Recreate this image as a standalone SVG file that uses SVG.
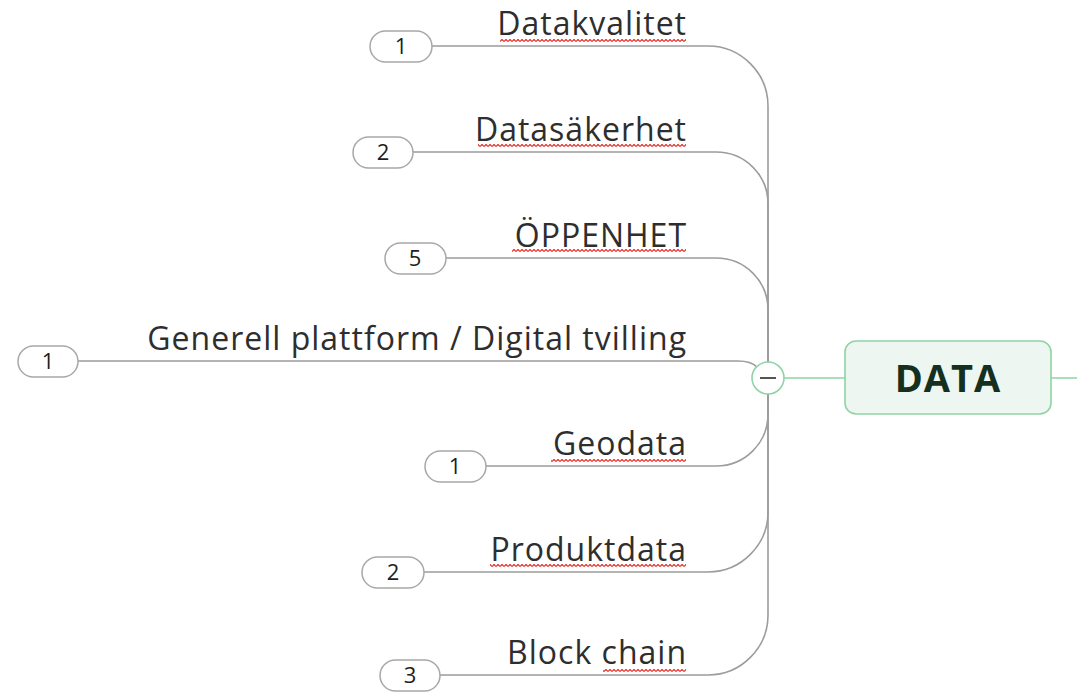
<svg xmlns="http://www.w3.org/2000/svg" width="1077" height="692" viewBox="0 0 1077 692">
<style>
.lbl{font-family:"Open Sans","Noto Sans","Liberation Sans",sans-serif;font-size:32px;letter-spacing:1px;fill:#2e2e2e;text-anchor:end}
.num{font-family:"Open Sans","Noto Sans","Liberation Sans",sans-serif;font-size:22px;fill:#1e1e1e;text-anchor:middle}
.badge{fill:#fff;stroke:#a8a8a8;stroke-width:1.5}
.conn{fill:none;stroke:#9c9c9c;stroke-width:1.6}
.sq{fill:url(#squig)}
</style>
<defs>
<pattern id="squig" patternUnits="userSpaceOnUse" width="4" height="3">
<path d="M0,2.6 L2,0.4 L4,2.6" fill="none" stroke="#e8302c" stroke-width="1.2"/>
</pattern>
</defs>
<rect width="1077" height="692" fill="#fff"/>
<g id="connectors">
<path class="conn" d="M432,46 H708 C741,46 768,73 768,106 V362"/>
<path class="conn" d="M413,152 H716 C745,152 768,175 768,204 V362"/>
<path class="conn" d="M446,258 H716 C745,258 768,281 768,310 V362"/>
<path class="conn" d="M78,361 H738 C748,361 753,363 757,367"/>
<path class="conn" d="M486,466 H716 C745,466 768,443 768,414 V394"/>
<path class="conn" d="M424,572 H708 C741,572 768,545 768,512 V394"/>
<path class="conn" d="M440,675 H708 C741,675 768,648 768,615 V394"/>
<path d="M784,378 H845 M1051,378 H1077" fill="none" stroke="#8fd3a6" stroke-width="1.6"/>
</g>
<g id="n-datakvalitet">
<rect class="badge" x="370" y="31" width="62" height="31" rx="15.5"/>
<text class="num" x="401" y="54">1</text>
<text class="lbl" x="687" y="35">Datakvalitet</text>
<rect class="sq" x="500" y="39" width="186" height="3"/>
</g>
<g id="n-datasakerhet">
<rect class="badge" x="353" y="137" width="60" height="31" rx="15.5"/>
<text class="num" x="383" y="160">2</text>
<text class="lbl" x="687" y="141">Datasäkerhet</text>
<rect class="sq" x="478" y="144" width="208" height="3"/>
</g>
<g id="n-oppenhet">
<rect class="badge" x="385" y="243" width="61" height="31" rx="15.5"/>
<text class="num" x="415" y="266">5</text>
<text class="lbl" x="687" y="247">ÖPPENHET</text>
<rect class="sq" x="512" y="249" width="174" height="3"/>
</g>
<g id="n-generell">
<rect class="badge" x="18" y="346" width="60" height="31" rx="15.5"/>
<text class="num" x="48" y="369">1</text>
<text class="lbl" x="687" y="350">Generell plattform / Digital tvilling</text>
</g>
<g id="n-geodata">
<rect class="badge" x="425" y="451" width="61" height="31" rx="15.5"/>
<text class="num" x="455" y="474">1</text>
<text class="lbl" x="687" y="455">Geodata</text>
<rect class="sq" x="551" y="459" width="135" height="3"/>
</g>
<g id="n-produktdata">
<rect class="badge" x="362" y="557" width="62" height="31" rx="15.5"/>
<text class="num" x="393" y="580">2</text>
<text class="lbl" x="687" y="561">Produktdata</text>
<rect class="sq" x="490" y="564" width="196" height="3"/>
</g>
<g id="n-blockchain">
<rect class="badge" x="380" y="660" width="60" height="31" rx="15.5"/>
<text class="num" x="410" y="683">3</text>
<text class="lbl" x="687" y="664">Block chain</text>
<rect class="sq" x="603" y="669" width="83" height="3"/>
</g>
<g id="n-collapse">
<circle cx="768" cy="378" r="16" fill="#fff" stroke="#8fd3a6" stroke-width="1.6"/>
<line x1="760" y1="378" x2="776" y2="378" stroke="#555" stroke-width="2"/>
</g>
<g id="n-data">
<rect x="845" y="341" width="206" height="73" rx="11" fill="#edf6f0" stroke="#8fd3a6" stroke-width="1.6"/>
<text x="948" y="392" font-family="'Open Sans','Noto Sans',sans-serif" font-size="38" font-weight="bold" fill="#15301f" text-anchor="middle" letter-spacing="1">DATA</text>
</g>
</svg>
